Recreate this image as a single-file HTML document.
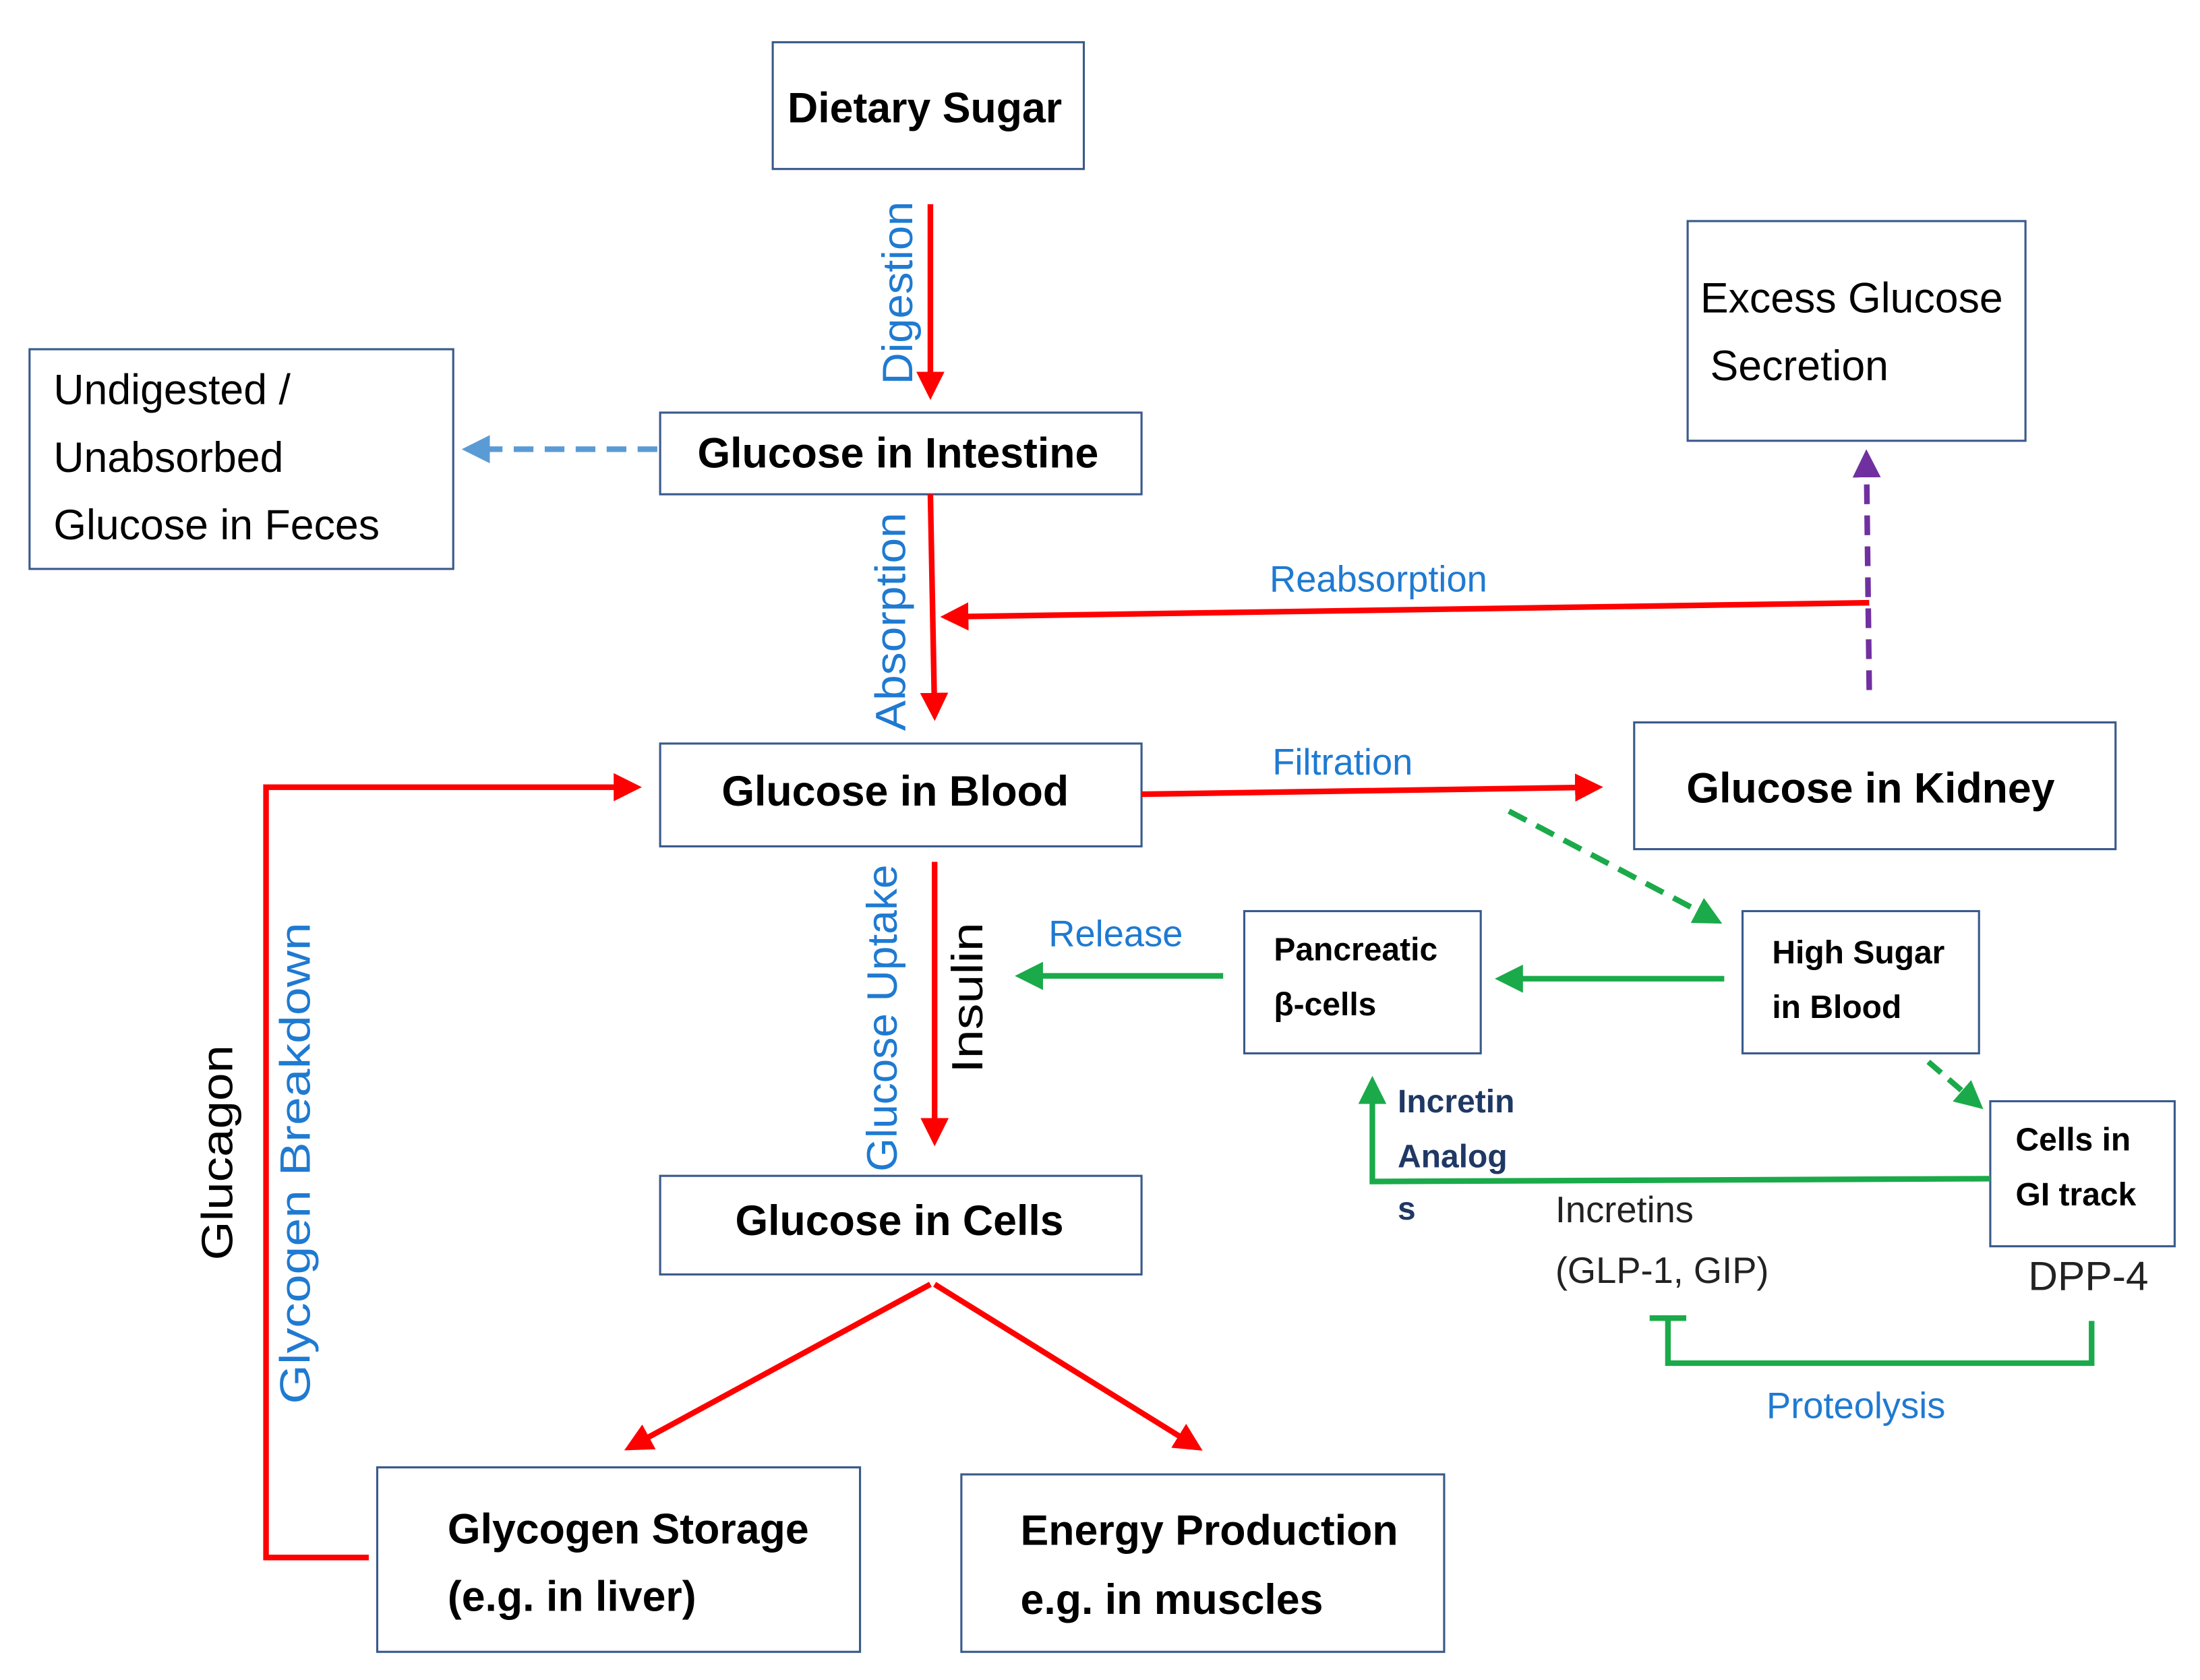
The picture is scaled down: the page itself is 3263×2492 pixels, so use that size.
<!DOCTYPE html>
<html><head><meta charset="utf-8"><style>
html,body{margin:0;padding:0;background:#fff;}
svg{display:block;}
text{font-family:"Liberation Sans",sans-serif;}
.b{font-weight:bold;fill:#000;}
.bl{fill:#1f7ad1;}
</style></head><body>
<svg width="3263" height="2492" viewBox="0 0 1563 1193" preserveAspectRatio="none" xmlns="http://www.w3.org/2000/svg">
<defs>
<marker id="ar" markerWidth="5" markerHeight="5" refX="4" refY="2.5" orient="auto" markerUnits="strokeWidth"><path d="M0,0 L5,2.5 L0,5 z" fill="#ff0000"/></marker>
<marker id="ag" markerWidth="5" markerHeight="5" refX="4" refY="2.5" orient="auto" markerUnits="strokeWidth"><path d="M0,0 L5,2.5 L0,5 z" fill="#1aaa4a"/></marker>
<marker id="ab" markerWidth="5" markerHeight="5" refX="4" refY="2.5" orient="auto" markerUnits="strokeWidth"><path d="M0,0 L5,2.5 L0,5 z" fill="#5b9bd5"/></marker>
<marker id="ap" markerWidth="5" markerHeight="5" refX="4" refY="2.5" orient="auto" markerUnits="strokeWidth"><path d="M0,0 L5,2.5 L0,5 z" fill="#7030a0"/></marker>
</defs>
<g fill="none" stroke="#3a5a8c" stroke-width="1.5">
<rect x="549" y="30" width="221" height="90"/>
<rect x="21" y="248" width="301" height="156"/>
<rect x="469" y="293" width="342" height="58"/>
<rect x="1199" y="157" width="240" height="156"/>
<rect x="469" y="528" width="342" height="73"/>
<rect x="1161" y="513" width="342" height="90"/>
<rect x="884" y="647" width="168" height="101"/>
<rect x="1238" y="647" width="168" height="101"/>
<rect x="1414" y="782" width="131" height="103"/>
<rect x="469" y="835" width="342" height="70"/>
<rect x="268" y="1042" width="343" height="131"/>
<rect x="683" y="1047" width="343" height="126"/>
</g>
<g stroke="#ff0000" stroke-width="4" fill="none">
<line x1="661" y1="145" x2="661" y2="280" marker-end="url(#ar)"/>
<line x1="661" y1="351" x2="664" y2="508" marker-end="url(#ar)"/>
<line x1="1328" y1="428" x2="672" y2="438" marker-end="url(#ar)"/>
<line x1="811" y1="564" x2="1135" y2="559" marker-end="url(#ar)"/>
<line x1="664" y1="612" x2="664" y2="810" marker-end="url(#ar)"/>
<line x1="661" y1="912" x2="447" y2="1028" marker-end="url(#ar)"/>
<line x1="664" y1="912" x2="851" y2="1028" marker-end="url(#ar)"/>
<polyline points="262,1106 189,1106 189,559 452,559" marker-end="url(#ar)"/>
</g>
<line x1="467" y1="319" x2="332" y2="319" stroke="#5b9bd5" stroke-width="4" stroke-dasharray="14,8" marker-end="url(#ab)"/>
<line x1="1328" y1="490" x2="1326" y2="323" stroke="#7030a0" stroke-width="4" stroke-dasharray="14,8" marker-end="url(#ap)"/>
<g stroke="#1aaa4a" stroke-width="4" fill="none">
<line x1="1072" y1="576" x2="1220" y2="654" stroke-dasharray="14,8" marker-end="url(#ag)"/>
<line x1="1370" y1="754" x2="1406" y2="785" stroke-dasharray="12,7" marker-end="url(#ag)"/>
<line x1="1225" y1="695" x2="1066" y2="695" marker-end="url(#ag)"/>
<line x1="869" y1="693" x2="725" y2="693" marker-end="url(#ag)"/>
<polyline points="1414,837 975,839 975,768" marker-end="url(#ag)"/>
<polyline points="1486,938 1486,968 1185,968 1185,936"/>
<line x1="1172" y1="936" x2="1198" y2="936"/>
</g>
<g font-size="30">
<text x="657" y="87" class="b" text-anchor="middle">Dietary Sugar</text>
<text x="638" y="332" class="b" text-anchor="middle">Glucose in Intestine</text>
<text x="636" y="572" class="b" text-anchor="middle">Glucose in Blood</text>
<text x="1329" y="570" class="b" text-anchor="middle">Glucose in Kidney</text>
<text x="639" y="877" class="b" text-anchor="middle">Glucose in Cells</text>
<text x="318" y="1096" class="b">Glycogen Storage</text>
<text x="318" y="1144" class="b">(e.g. in liver)</text>
<text x="725" y="1097" class="b">Energy Production</text>
<text x="725" y="1146" class="b">e.g. in muscles</text>
</g>
<g font-size="30" fill="#000">
<text x="38" y="287">Undigested /</text>
<text x="38" y="335">Unabsorbed</text>
<text x="38" y="383">Glucose in Feces</text>
<text x="1208" y="222">Excess Glucose</text>
<text x="1215" y="270">Secretion</text>
</g>
<g font-size="23" class="b">
<text x="905" y="682">Pancreatic</text>
<text x="905" y="721">β-cells</text>
<text x="1259" y="684">High Sugar</text>
<text x="1259" y="723">in Blood</text>
<text x="1432" y="817">Cells in</text>
<text x="1432" y="856">GI track</text>
</g>
<g font-size="23" font-weight="bold" fill="#1f3864">
<text x="993" y="790">Incretin</text>
<text x="993" y="829">Analog</text>
<text x="993" y="866">s</text>
</g>
<g font-size="26" fill="#222">
<text x="1105" y="868">Incretins</text>
<text x="1105" y="911">(GLP-1, GIP)</text>
<text x="1441" y="916" font-size="29">DPP-4</text>
</g>
<g font-size="26" class="bl">
<text x="902" y="420">Reabsorption</text>
<text x="904" y="550">Filtration</text>
<text x="745" y="672">Release</text>
<text x="1255" y="1007">Proteolysis</text>
</g>
<g font-size="30" class="bl">
<text transform="translate(648,273) rotate(-90)" textLength="130" lengthAdjust="spacingAndGlyphs">Digestion</text>
<text transform="translate(643,519) rotate(-90)" textLength="155" lengthAdjust="spacingAndGlyphs">Absorption</text>
<text transform="translate(637,832) rotate(-90)" textLength="218" lengthAdjust="spacingAndGlyphs">Glucose Uptake</text>
<text transform="translate(220,997) rotate(-90)" textLength="342" lengthAdjust="spacingAndGlyphs">Glycogen Breakdown</text>
</g>
<text transform="translate(698,762) rotate(-90)" font-size="31" fill="#000" textLength="107" lengthAdjust="spacingAndGlyphs">Insulin</text>
<text transform="translate(165,895) rotate(-90)" font-size="31" fill="#000" textLength="153" lengthAdjust="spacingAndGlyphs">Glucagon</text>
</svg>
</body></html>
